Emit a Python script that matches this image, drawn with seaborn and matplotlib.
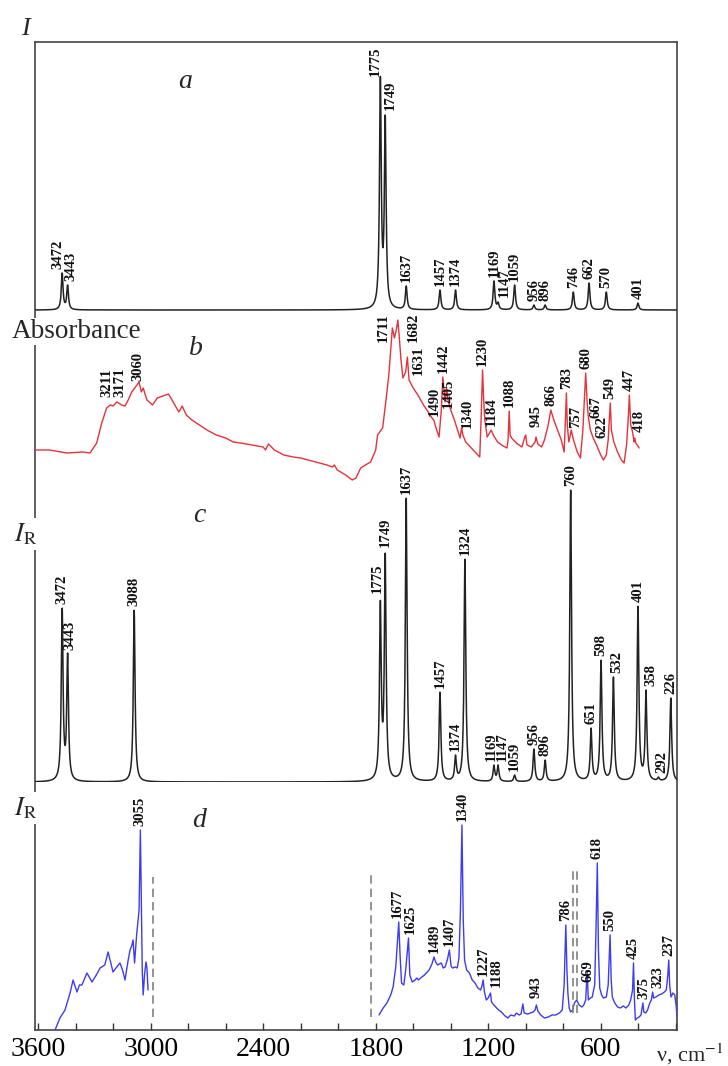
import numpy as np
import matplotlib.pyplot as plt
import seaborn as sns
from matplotlib.ticker import MultipleLocator

# (a) calculated IR spectrum: band positions (cm-1) and peak heights
a_pos = [3472, 3443, 1775, 1749, 1637, 1457, 1374, 1169, 1147, 1059, 956, 896, 746, 662, 570, 401]
a_height = [37, 25, 234, 195, 24, 20, 20, 29, 8, 25, 5, 5, 18, 27, 18, 7]

# (b) experimental IR absorbance, read point by point
b_wn = [3617, 3540, 3446, 3361, 3324, 3288, 3261, 3235, 3215, 3200, 3181, 3171, 3155, 3137, 3120,
        3101, 3085, 3062, 3050, 3040, 3020, 2990, 2965, 2935, 2905, 2880, 2850, 2832, 2810, 2780,
        2740, 2700, 2650, 2600, 2560, 2520, 2460, 2400, 2388, 2372, 2340, 2290, 2240, 2200, 2120,
        2060, 2030, 2020, 2005, 1960, 1925, 1905, 1880, 1855, 1827, 1800, 1790, 1763, 1745, 1730,
        1720, 1711, 1700, 1690, 1682, 1675, 1665, 1655, 1640, 1631, 1622, 1600, 1575, 1545, 1520,
        1500, 1490, 1478, 1462, 1450, 1442, 1436, 1430, 1422, 1414, 1400, 1380, 1360, 1350, 1342,
        1335, 1320, 1290, 1260, 1245, 1238, 1230, 1224, 1218, 1205, 1190, 1184, 1170, 1150, 1120,
        1100, 1094, 1088, 1083, 1075, 1050, 1020, 1005, 1000, 993, 970, 950, 945, 935, 915,
        900, 880, 866, 850, 830, 810, 795, 788, 783, 778, 770, 762, 757, 745, 725,
        708, 695, 686, 680, 673, 667, 655, 640, 622, 600, 585, 570, 560, 549, 543,
        530, 510, 490, 475, 462, 452, 447, 440, 430, 422, 418, 413, 405, 395]
b_abs = [50, 50, 47, 48, 47, 57, 77, 92, 95, 94, 98, 97, 95, 94, 100,
         108, 112, 118, 108, 112, 100, 95, 102, 104, 106, 98, 88, 94, 85, 80,
         75, 70, 65, 62, 58, 57, 55, 53, 50, 56, 50, 45, 43, 42, 38,
         35, 33, 35, 30, 25, 20, 22, 32, 35, 38, 50, 65, 72, 100, 125,
         150, 172, 162, 170, 180, 165, 140, 122, 128, 143, 120, 112, 105, 95, 88,
         82, 80, 72, 63, 90, 123, 110, 98, 112, 100, 90, 80, 68, 62, 72,
         65, 58, 52, 46, 43, 80, 130, 100, 80, 63, 68, 70, 64, 58, 54,
         52, 60, 89, 65, 62, 57, 53, 63, 65, 55, 53, 58, 63, 56, 53,
         60, 75, 90, 80, 70, 60, 48, 80, 107, 75, 58, 65, 70, 60, 48,
         42, 70, 105, 127, 100, 85, 70, 62, 55, 45, 40, 45, 60, 97, 70,
         58, 48, 40, 37, 55, 85, 105, 75, 68, 58, 62, 57, 55, 52]

# (c) calculated Raman spectrum
c_pos = [3472, 3443, 3088, 1775, 1749, 1637, 1457, 1374, 1324, 1169, 1147, 1059, 956, 896,
         760, 651, 598, 532, 401, 358, 292, 226]
c_height = [174, 129, 172, 182, 229, 284, 90, 27, 223, 17, 17, 7, 33, 22,
            292, 54, 122, 105, 176, 92, 5, 84]

# (d) experimental Raman spectrum, two recorded ranges
d_left_wn = [3510, 3484, 3457, 3430, 3414, 3400, 3393, 3380, 3367, 3340, 3313, 3290, 3270, 3245,
             3227, 3210, 3201, 3185, 3164, 3150, 3137, 3120, 3110, 3100, 3094, 3086, 3075, 3062,
             3055, 3050, 3045, 3040, 3033, 3025, 3020, 3014]
d_left_int = [0, 12, 20, 37, 50, 42, 38, 45, 45, 57, 48, 55, 62, 65,
              78, 65, 58, 62, 67, 60, 50, 70, 80, 85, 90, 67, 95, 120,
              200, 130, 60, 35, 55, 68, 62, 40]
d_right_wn = [1782, 1760, 1740, 1720, 1707, 1693, 1685, 1677, 1670, 1662, 1650, 1640, 1625, 1618,
              1605, 1590, 1580, 1572, 1560, 1540, 1515, 1500, 1489, 1480, 1470, 1460, 1450, 1440,
              1430, 1418, 1407, 1398, 1390, 1375, 1365, 1356, 1348, 1340, 1333, 1326, 1315, 1300,
              1285, 1270, 1255, 1240, 1232, 1227, 1220, 1210, 1200, 1188, 1182, 1170, 1150, 1130,
              1110, 1095, 1080, 1060, 1050, 1035, 1025, 1015, 1008, 990, 975, 960, 950, 943,
              935, 920, 900, 880, 860, 840, 820, 805, 795, 786, 780, 775, 768, 760,
              750, 740, 728, 715, 700, 690, 680, 672, 666, 655, 645, 632, 625, 618,
              612, 605, 595, 585, 570, 560, 550, 544, 538, 525, 510, 495, 480, 465,
              450, 440, 430, 425, 420, 415, 405, 395, 385, 375, 370, 360, 350, 338,
              330, 323, 318, 305, 290, 275, 260, 250, 242, 237, 232, 225, 215, 205, 198, 193]
d_right_int = [15, 22, 27, 35, 43, 63, 85, 108, 75, 47, 45, 60, 92, 55,
               48, 50, 52, 50, 52, 55, 60, 66, 73, 68, 65, 66, 67, 62,
               63, 70, 80, 64, 62, 63, 62, 72, 120, 205, 110, 70, 60, 57,
               50, 47, 42, 40, 45, 50, 38, 30, 32, 37, 28, 25, 21, 18,
               14, 12, 15, 14, 17, 15, 16, 26, 17, 16, 17, 18, 20, 25,
               19, 15, 12, 13, 15, 15, 17, 20, 45, 105, 60, 37, 22, 18,
               20, 27, 30, 25, 23, 25, 30, 58, 30, 32, 33, 45, 100, 167,
               80, 42, 35, 32, 33, 45, 95, 50, 33, 27, 23, 22, 24, 22,
               25, 30, 40, 67, 30, 10, 12, 13, 15, 27, 18, 17, 20, 27,
               30, 38, 32, 33, 35, 36, 38, 40, 55, 70, 45, 33, 37, 35, 25, 13]

# dashed markers in (d): position, lower and upper end
d_cut_wn = [2990, 1827, 750, 728]
d_cut_lo = [13, 13, 17, 17]
d_cut_hi = [153, 155, 160, 160]

b_labels = [3211, 3171, 3060, 1711, 1682, 1631, 1490, 1442, 1405, 1340, 1230, 1184, 1088, 945,
            866, 783, 757, 680, 667, 622, 549, 447, 418]
d_labels = [3055, 1677, 1625, 1489, 1407, 1340, 1227, 1188, 943, 786, 669, 618, 550, 425,
            375, 323, 237]

# label nudges in pixels (dx, dy), default is (0, 4)
a_shift = {3472: (-4, 4), 3443: (3, 4), 1775: (-5.5, 0), 1749: (5.5, 5), 1147: (6, 5)}
b_shift = {3211: (-4, 8), 3171: (1, 6), 3060: (-2, 3), 1711: (-9, -14), 1682: (15, -22),
           1631: (11, -18), 1405: (-1, -2), 1340: (5, 2), 945: (0, 10), 757: (4.5, 2),
           667: (8, -3), 622: (5.5, 7), 418: (4, 6)}
c_shift = {3443: (2.5, 3), 1775: (-3.5, 7), 1749: (0, 6), 1169: (-3, 4), 1147: (4, 4),
           532: (3, 4), 358: (4.5, 4), 292: (3, 4)}
d_shift = {1677: (-1.5, 4), 1625: (2, 4), 1188: (6, 6), 943: (0, 7), 375: (1, 4), 323: (5, 4)}

W, H = 728, 1066
X_LEFT, X_RIGHT = 3617, 193
HWHM = 5.5

sns.set_theme(style="white")
plt.rcParams['font.family'] = ['Liberation Serif', 'DejaVu Serif']
plt.rcParams['mathtext.fontset'] = 'stix'


def rect(top, bottom):
    return [35 / W, 1 - bottom / H, (677 - 35) / W, (bottom - top) / H]


def lorentz_sum(grid, pos, height):
    pos = np.asarray(pos, float)
    m = 1 / (1 + ((pos[:, None] - pos[None, :]) / HWHM) ** 2)
    amp = np.linalg.solve(m, np.asarray(height, float))
    return (amp[None, :] / (1 + ((grid[:, None] - pos[None, :]) / HWHM) ** 2)).sum(axis=1)


def put_labels(ax, labels, yvals, shift):
    for lab, yv in zip(labels, yvals):
        dx, dy = shift.get(lab, (0, 4))
        ax.annotate(str(lab), xy=(lab, yv), xytext=(dx * 0.72, dy * 0.72),
                    textcoords='offset points', rotation=90, ha='center', va='bottom',
                    fontsize=10.5, fontweight='bold', color='#111111')


fig = plt.figure(figsize=(W / 100, H / 100), dpi=100)

# outer frame with the wavenumber axis
ax_frame = fig.add_axes(rect(42, 1030))
ax_frame.set_xlim(X_LEFT, X_RIGHT)
ax_frame.set_ylim(0, 1)
ax_frame.set_yticks([])
ax_frame.set_xticks([3600, 3000, 2400, 1800, 1200, 600])
ax_frame.xaxis.set_minor_locator(MultipleLocator(200))
ax_frame.tick_params(axis='x', which='both', direction='in', length=5, width=1,
                     labelsize=20, pad=5, colors='#333333', labelcolor='black', bottom=True)
for s in ax_frame.spines.values():
    s.set_color('#444444')
    s.set_linewidth(1.2)
ax_frame.patch.set_alpha(0)

grid = np.linspace(X_LEFT, X_RIGHT, 5000)

# panel a
ax_a = fig.add_axes(rect(42, 311))
a_curve = lorentz_sum(grid, a_pos, a_height)
sns.lineplot(x=grid, y=a_curve, ax=ax_a, color='#222222', lw=1.1)
ax_a.set_ylim(-1, 268)
put_labels(ax_a, a_pos, lorentz_sum(np.asarray(a_pos, float), a_pos, a_height), a_shift)

# panel b
ax_b = fig.add_axes(rect(311, 500))
sns.lineplot(x=b_wn, y=b_abs, ax=ax_b, color='#e5323b', lw=1.0, sort=False, estimator=None)
ax_b.set_ylim(0, 189)
put_labels(ax_b, b_labels, np.interp(b_labels, b_wn[::-1], b_abs[::-1]), b_shift)

# panel c
ax_c = fig.add_axes(rect(470, 782))
c_curve = lorentz_sum(grid, c_pos, c_height)
sns.lineplot(x=grid, y=c_curve, ax=ax_c, color='#222222', lw=1.1)
ax_c.set_ylim(0, 312)
put_labels(ax_c, c_pos, lorentz_sum(np.asarray(c_pos, float), c_pos, c_height), c_shift)

# panel d
ax_d = fig.add_axes(rect(780, 1030))
sns.lineplot(x=d_left_wn, y=d_left_int, ax=ax_d, color='#3c3cf0', lw=1.0, sort=False, estimator=None)
sns.lineplot(x=d_right_wn, y=d_right_int, ax=ax_d, color='#3c3cf0', lw=1.0, sort=False, estimator=None)
ax_d.vlines(d_cut_wn, d_cut_lo, d_cut_hi, colors='#808080', linestyles=(0, (5, 3)), lw=1.2)
ax_d.set_ylim(0, 250)
d_wn_all = d_left_wn + d_right_wn
d_int_all = d_left_int + d_right_int
order = np.argsort(d_wn_all)
put_labels(ax_d, d_labels, np.interp(d_labels, np.asarray(d_wn_all)[order],
                                     np.asarray(d_int_all)[order]), d_shift)

for ax in (ax_a, ax_b, ax_c, ax_d):
    ax.set_xlim(X_LEFT, X_RIGHT)
    ax.axis('off')


def ftext(px, py, s, **kw):
    fig.text(px / W, 1 - py / H, s, **kw)


white = dict(facecolor='white', edgecolor='none', pad=2)
ftext(25, 35, 'I', fontsize=19, style='italic', ha='center', va='baseline')
ftext(12, 338, 'Absorbance', fontsize=19.5, ha='left', va='baseline', bbox=dict(white, pad=1))
ftext(14, 541, r'$I_{\mathrm{R}}$', fontsize=19, ha='left', va='baseline', bbox=white)
ftext(14, 815, r'$I_{\mathrm{R}}$', fontsize=19, ha='left', va='baseline', bbox=white)
ftext(185, 88, 'a', fontsize=20, style='italic', ha='center', va='baseline')
ftext(196, 355, 'b', fontsize=20, style='italic', ha='center', va='baseline')
ftext(199, 522, 'c', fontsize=20, style='italic', ha='center', va='baseline')
ftext(199, 827, 'd', fontsize=20, style='italic', ha='center', va='baseline')
ftext(724, 1062, r'ν, cm$^{-1}$', fontsize=16, ha='right', va='baseline')

fig.savefig('out.png', dpi=100)
